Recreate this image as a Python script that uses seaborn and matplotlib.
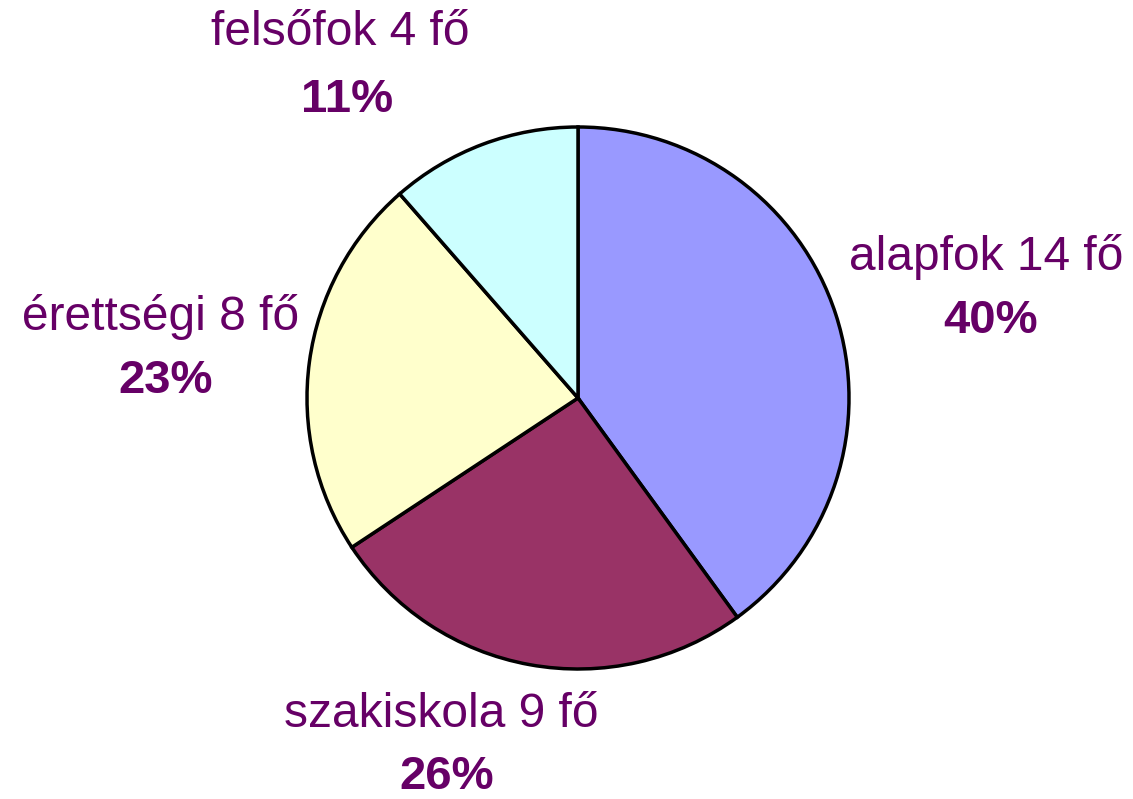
import matplotlib
matplotlib.use("Agg")
import matplotlib.pyplot as plt
import seaborn as sns

categories = ["alapfok", "szakiskola", "érettségi", "felsőfok"]
counts = [14, 9, 8, 4]
colors = ["#9999FF", "#993366", "#FFFFCC", "#CCFFFF"]

sns.set_theme(style="white")
plt.rcParams["font.family"] = ["Liberation Sans", "DejaVu Sans"]

W, H = 1133, 799
fig = plt.figure(figsize=(W / 100, H / 100), dpi=100)
ax = fig.add_axes([0, 0, 1, 1])
ax.set_xlim(0, W)
ax.set_ylim(0, H)
ax.set_aspect("equal")
ax.axis("off")

ax.pie(counts, colors=colors, startangle=90, counterclock=False,
       center=(578, H - 398), radius=271,
       wedgeprops=dict(edgecolor="black", linewidth=2.5))
ax.set_xlim(0, W)
ax.set_ylim(0, H)

total = sum(counts)
# label anchor positions (pixel layout, top-left origin): name line, percent line
label_pos = {
    "alapfok": ((986, 270), (991, 333)),
    "szakiskola": ((441, 727), (447, 789)),
    "érettségi": ((161, 330), (166, 393)),
    "felsőfok": ((340, 45), (347, 112)),
}
tc = "#660066"
for cat, n in zip(categories, counts):
    (x1, y1), (x2, y2) = label_pos[cat]
    ax.text(x1, H - y1, f"{cat} {n} fő", ha="center", va="baseline",
            fontsize=34.5, color=tc)
    ax.text(x2, H - y2, f"{round(100 * n / total)}%", ha="center", va="baseline",
            fontsize=34, color=tc, fontweight="bold")

fig.savefig("out.png", dpi=100, facecolor="white")
